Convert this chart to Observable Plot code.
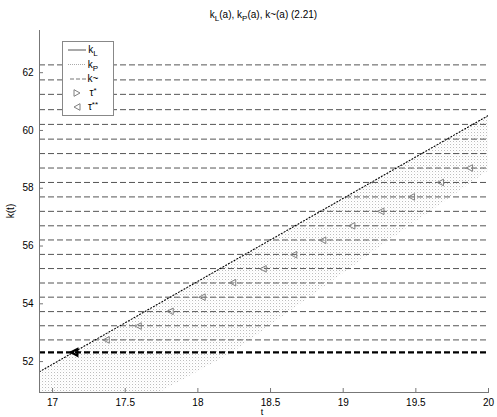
<!DOCTYPE html>
<html>
<head>
<meta charset="utf-8">
<script src="https://cdn.jsdelivr.net/npm/d3@7"></script>
<script src="https://cdn.jsdelivr.net/npm/@observablehq/plot@0.6"></script>
<style>
  html, body { margin: 0; padding: 0; background: #fff; }
  #chart { width: 497px; height: 417px; }
  svg { font-family: "Liberation Sans", Arial, sans-serif; }
</style>
</head>
<body>
<div id="chart"></div>
<script>
// ---- data ----
const xDomain = [16.91, 20.0];
const yDomain = [50.93, 63.46];
const xTicks = [17, 17.5, 18, 18.5, 19, 19.5, 20];
const yTicks = [52, 54, 56, 58, 60, 62];

// k_P (dotted line)
const kP_t = [16.91, 20.0];
const kP_k = [51.65, 60.52];

// shaded bundle of k_P curves (upper / lower envelope)
const shade_t    = [16.91, 17.74, 18.24, 19.25, 20.0];
const shade_high = [51.65, 54.03, 55.47, 58.37, 60.52];
const shade_low  = [50.93, 50.93, 52.31, 55.95, 58.60];

// k~ dashed levels
const kTilde = [52.75, 53.24, 53.73, 54.23, 54.72, 55.22, 55.71, 56.21, 56.70, 57.20,
                57.70, 58.20, 58.70, 59.20, 59.70, 60.21, 60.72, 61.25, 61.75, 62.27];
// thick black dashed level
const kStar = [52.32];

// tau** markers (left triangles)
const tau2_t = [17.37, 17.59, 17.81, 18.03, 18.24, 18.45, 18.66, 18.86, 19.06, 19.26, 19.47, 19.67, 19.87];
const tau2_k = [52.75, 53.23, 53.74, 54.23, 54.73, 55.21, 55.70, 56.20, 56.70, 57.20, 57.70, 58.20, 58.70];
// first (bold) tau point
const tau0_t = [17.15];
const tau0_k = [52.32];

// ---- build ----
const kPData = kP_t.map((t, i) => ({t, k: kP_k[i]}));
const shadeData = shade_t.map((t, i) => ({t, lo: shade_low[i], hi: shade_high[i]}));
const tau2Data = tau2_t.map((t, i) => ({t, k: tau2_k[i]}));
const tau0Data = tau0_t.map((t, i) => ({t, k: tau0_k[i]}));

const triLeft = {draw(c, size) { const s = Math.sqrt(size / Math.PI); c.moveTo(-s, 0); c.lineTo(s * 0.9, -s); c.lineTo(s * 0.9, s); c.closePath(); }};

const W = 497, H = 417, mL = 39, mR = 9, mT = 30, mB = 25;
const fw = W - mL - mR, fh = H - mT - mB;

const plot = Plot.plot({
  width: W, height: H,
  marginLeft: mL, marginRight: mR, marginTop: mT, marginBottom: mB,
  style: {fontFamily: "Liberation Sans, Arial, sans-serif", fontSize: "10px", color: "#000", background: "#fff"},
  x: {domain: xDomain},
  y: {domain: yDomain},
  marks: [
    Plot.areaY(shadeData, {x: "t", y1: "lo", y2: "hi", fill: "url(#dotpat)", clip: true}),
    Plot.ruleY(kTilde, {stroke: "#555", strokeWidth: 1, strokeDasharray: "6,3"}),
    Plot.ruleY(kStar, {stroke: "#000", strokeWidth: 2.2, strokeDasharray: "6,3"}),
    Plot.line(kPData, {x: "t", y: "k", stroke: "#000", strokeWidth: 1.1, strokeDasharray: "1,2.2", clip: true}),
    Plot.dot(tau2Data, {x: "t", y: "k", symbol: triLeft, r: 3.3, stroke: "#808080", strokeWidth: 1, fill: "none"}),
    Plot.dot(tau0Data, {x: "t", y: "k", symbol: triLeft, r: 3.3, stroke: "#000", strokeWidth: 2.2, fill: "none"}),
    // axes lines
    Plot.frame({anchor: "left", stroke: "#777"}),
    Plot.frame({anchor: "bottom", stroke: "#777"}),
    // inward ticks
    Plot.tickX(xTicks, {x: d => d, stroke: "#777", insetTop: fh - 4}),
    Plot.tickY(yTicks, {y: d => d, stroke: "#777", insetRight: fw - 4}),
    Plot.axisX(xTicks, {tickSize: 0, tickPadding: 6, label: null, fontSize: 10, tickFormat: d => String(d)}),
    Plot.axisY(yTicks, {tickSize: 0, tickPadding: 6, label: null, fontSize: 10, tickFormat: d => String(d)})
  ]
});

const svg = d3.select(plot);
// dot pattern for the shaded bundle
const defs = svg.insert("defs", ":first-child");
const pat = defs.append("pattern").attr("id", "dotpat").attr("patternUnits", "userSpaceOnUse")
  .attr("width", 3).attr("height", 3);
pat.append("rect").attr("x", 0).attr("y", 0).attr("width", 1).attr("height", 1).attr("fill", "#bdbdbd");
pat.append("rect").attr("x", 1.5).attr("y", 1.5).attr("width", 0.8).attr("height", 0.8).attr("fill", "#dedede");

// title
const title = svg.append("text").attr("x", mL + fw / 2).attr("y", 18).attr("text-anchor", "middle")
  .attr("font-size", 10).attr("fill", "#000");
title.append("tspan").text("k");
title.append("tspan").attr("font-size", 8).attr("dy", 3).text("L");
title.append("tspan").attr("dy", -3).text("(a), k");
title.append("tspan").attr("font-size", 8).attr("dy", 3).text("P");
title.append("tspan").attr("dy", -3).text("(a), k~(a) (2.21)");

// axis labels
svg.append("text").attr("transform", `translate(14,${mT + fh / 2}) rotate(-90)`).attr("text-anchor", "middle")
  .attr("font-size", 10).text("k(t)");
svg.append("text").attr("x", 262).attr("y", 414.5).attr("text-anchor", "middle")
  .attr("font-size", 9).text("t");

// legend
const lg = svg.append("g");
lg.append("rect").attr("x", 62.5).attr("y", 41.5).attr("width", 51).attr("height", 74)
  .attr("fill", "#fff").attr("stroke", "#888");
const rows = [
  {y: 50, kind: "solid", label: "k", sub: "L"},
  {y: 64.5, kind: "dotted", label: "k", sub: "P"},
  {y: 79, kind: "dashed", label: "k~"},
  {y: 93, kind: "tri-r", label: "τ*"},
  {y: 107, kind: "tri-l", label: "τ**"}
];
rows.forEach(r => {
  if (r.kind === "solid") lg.append("line").attr("x1", 68).attr("x2", 86).attr("y1", r.y).attr("y2", r.y).attr("stroke", "#555");
  if (r.kind === "dotted") lg.append("line").attr("x1", 68).attr("x2", 86).attr("y1", r.y).attr("y2", r.y).attr("stroke", "#aaa").attr("stroke-dasharray", "1,1");
  if (r.kind === "dashed") lg.append("line").attr("x1", 70).attr("x2", 86).attr("y1", r.y).attr("y2", r.y).attr("stroke", "#777").attr("stroke-dasharray", "4,2");
  if (r.kind === "tri-r") lg.append("path").attr("d", `M${77 + 3},${r.y} L${77 - 3},${r.y - 3.3} L${77 - 3},${r.y + 3.3} Z`).attr("fill", "none").attr("stroke", "#808080");
  if (r.kind === "tri-l") lg.append("path").attr("d", `M${77 - 3},${r.y} L${77 + 3},${r.y - 3.3} L${77 + 3},${r.y + 3.3} Z`).attr("fill", "none").attr("stroke", "#808080");
  const t = lg.append("text").attr("x", 93).attr("y", r.y + 3).attr("font-size", 10).attr("fill", "#000");
  if (r.sub) {
    t.append("tspan").text(r.label);
    t.append("tspan").attr("font-size", 8).attr("dy", 3).text(r.sub);
  } else if (r.label.startsWith("τ")) {
    t.append("tspan").text("τ");
    t.append("tspan").attr("font-size", 8).attr("dy", -3).text(r.label.slice(1));
  } else {
    t.text(r.label);
  }
});

document.getElementById("chart").appendChild(plot);
</script>
</body>
</html>
